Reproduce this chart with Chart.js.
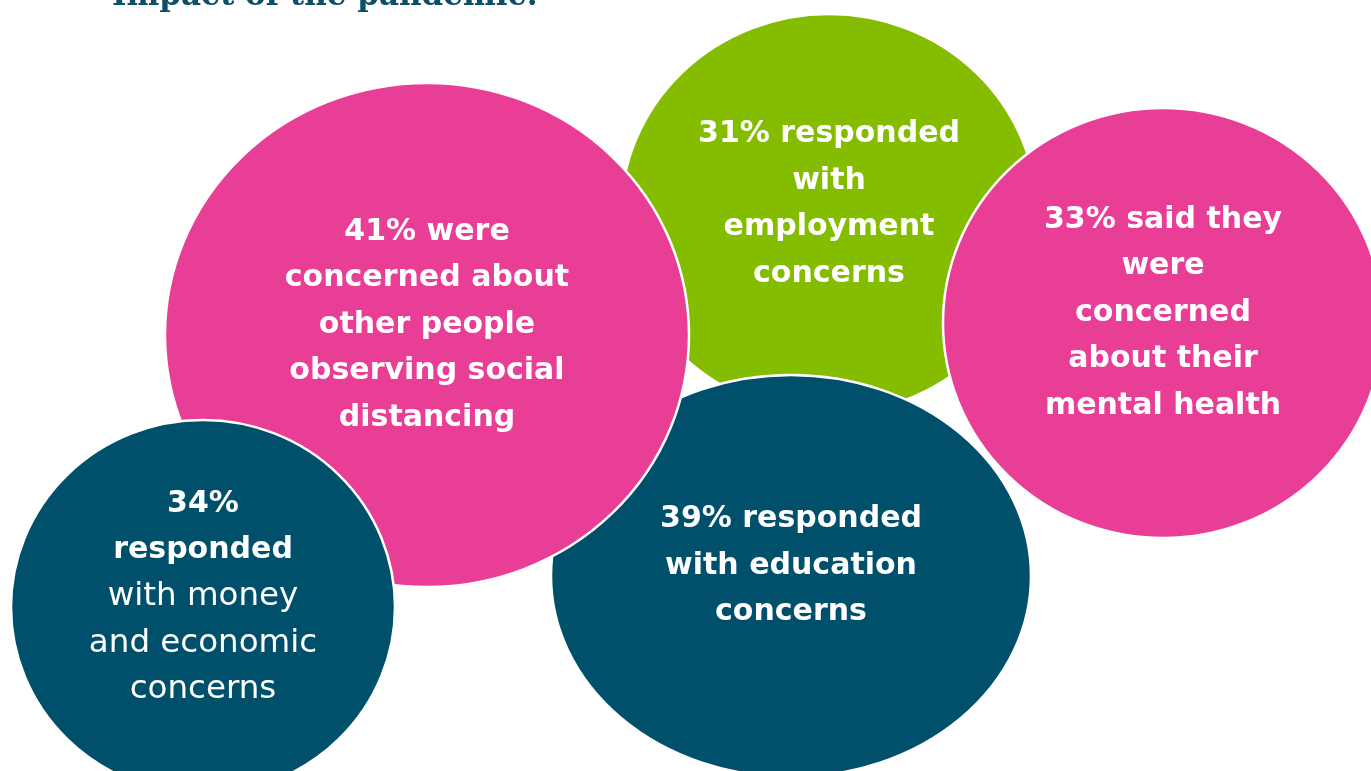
<!DOCTYPE html>
<html>
<head>
<meta charset="utf-8">
<title>Impact of the pandemic</title>
<script src="https://cdn.jsdelivr.net/npm/chart.js@4"></script>
<style>
  html, body { margin: 0; padding: 0; background: #ffffff; }
  #wrap { width: 1371px; height: 771px; overflow: hidden; }
</style>
</head>
<body>
<div id="wrap"><canvas id="concernsChart" width="1371" height="771"></canvas></div>
<script>
// survey results, listed in paint order (back to front)
const categories = ['Employment', 'Education', 'Social distancing', 'Mental health', 'Money and economy'];
const percentages = [31, 39, 41, 33, 34];
const bubbleX = [829, 791, 427, 1163, 203];
const bubbleY = [214, 576, 335, 323, 607];
const bubbleHalfWidth = [208, 240, 262, 220, 192];
const bubbleHalfHeight = [200, 201, 252, 215, 187];
const labelLines = [
  ['{p}% responded', 'with', 'employment', 'concerns'],
  ['{p}% responded', 'with education', 'concerns'],
  ['{p}% were', 'concerned about', 'other people', 'observing social', 'distancing'],
  ['{p}% said they', 'were', 'concerned', 'about their', 'mental health'],
  ['{p}%', 'responded', 'with money', 'and economic', 'concerns']
];
const boldLineCount = [4, 3, 5, 5, 2];
const titleText = 'Impact of the pandemic:';

const PINK = '#e83e96';
const GREEN = '#84bd00';
const TEAL = '#00506b';
const bubbleColors = [GREEN, TEAL, PINK, PINK, TEAL];

// bubble chart whose marks are ellipses sized in axis units
class EllipseBubbleController extends Chart.BubbleController {
  getMaxOverflow() {
    return 0;
  }
  draw() {
    const ctx = this.chart.ctx;
    const meta = this.getMeta();
    const ds = this.getDataset();
    meta.data.forEach((pt, i) => {
      const d = ds.data[i];
      const rx = Math.abs(meta.xScale.getPixelForValue(d.x + d.w) - pt.x);
      const ry = Math.abs(meta.yScale.getPixelForValue(d.y + d.h) - pt.y);
      ctx.save();
      ctx.beginPath();
      ctx.ellipse(pt.x, pt.y, rx, ry, 0, 0, Math.PI * 2);
      ctx.fillStyle = ds.backgroundColor[i];
      ctx.fill();
      ctx.lineWidth = 2.5;
      ctx.strokeStyle = '#ffffff';
      ctx.stroke();
      ctx.restore();
    });
  }
}
EllipseBubbleController.id = 'ellipseBubble';
EllipseBubbleController.defaults = Chart.BubbleController.defaults;
Chart.register(EllipseBubbleController);

const bubbleLabels = {
  id: 'bubbleLabels',
  afterDatasetsDraw(chart) {
    const ctx = chart.ctx;
    const meta = chart.getDatasetMeta(0);
    const lineHeight = 46.5;
    ctx.save();
    ctx.fillStyle = '#ffffff';
    ctx.textAlign = 'center';
    ctx.textBaseline = 'middle';
    meta.data.forEach((pt, i) => {
      const lines = labelLines[i].map(s => s.replace('{p}', percentages[i]));
      const top = pt.y - 10 - (lines.length - 1) * lineHeight / 2;
      lines.forEach((line, j) => {
        ctx.font = j < boldLineCount[i]
          ? 'bold 30px "DejaVu Sans", sans-serif'
          : '32.5px "DejaVu Sans", sans-serif';
        ctx.fillText(line, pt.x, top + j * lineHeight);
      });
    });
    ctx.restore();
  }
};

// heading sits mostly above the top edge, only its lower part shows
const clippedTitle = {
  id: 'clippedTitle',
  afterDraw(chart) {
    const ctx = chart.ctx;
    ctx.save();
    ctx.fillStyle = '#0d4e69';
    ctx.font = 'bold 31px "DejaVu Serif", serif';
    ctx.textAlign = 'left';
    ctx.textBaseline = 'alphabetic';
    ctx.fillText(titleText, 112, 5);
    ctx.restore();
  }
};

new Chart(document.getElementById('concernsChart'), {
  type: 'ellipseBubble',
  data: {
    labels: categories,
    datasets: [{
      label: 'Share of respondents',
      data: percentages.map((v, i) => ({
        x: bubbleX[i], y: bubbleY[i], w: bubbleHalfWidth[i], h: bubbleHalfHeight[i], v: v
      })),
      backgroundColor: bubbleColors
    }]
  },
  options: {
    responsive: false,
    animation: false,
    layout: { padding: 0 },
    scales: {
      x: { type: 'linear', display: false, min: 0, max: 1371 },
      y: { type: 'linear', display: false, min: 0, max: 771, reverse: true }
    },
    plugins: {
      legend: { display: false },
      tooltip: { enabled: false }
    }
  },
  plugins: [bubbleLabels, clippedTitle]
});
</script>
</body>
</html>
